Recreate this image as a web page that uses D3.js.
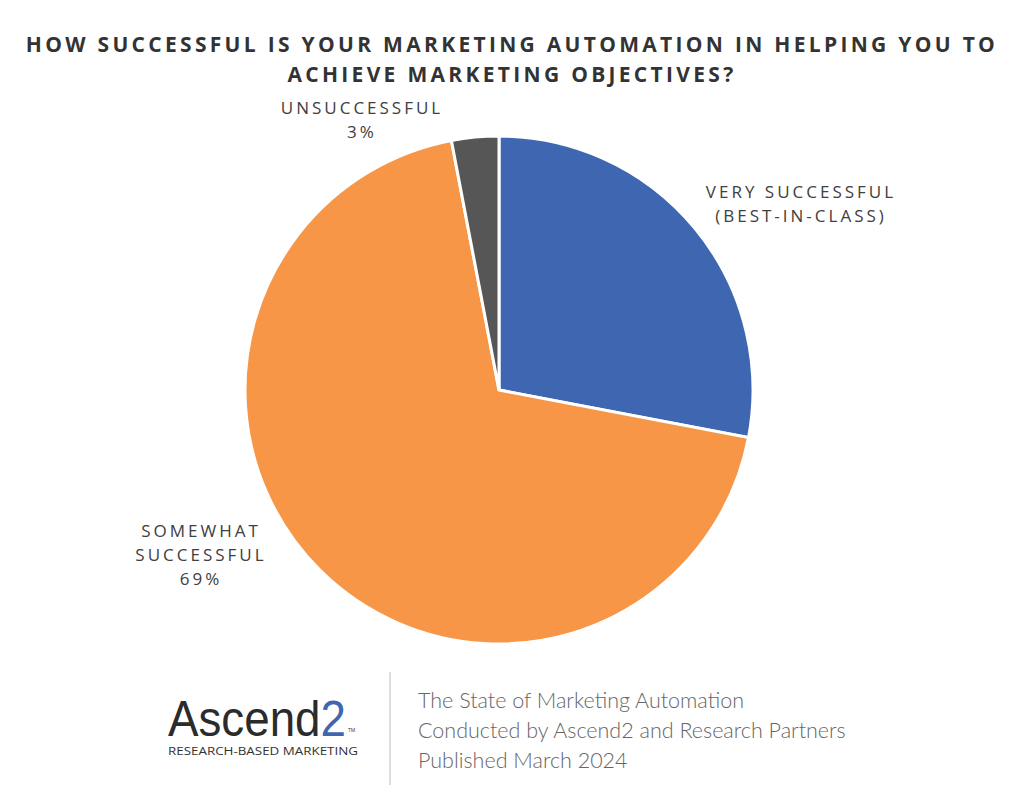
<!DOCTYPE html><html><head><meta charset="utf-8">
<script src="https://cdn.jsdelivr.net/npm/d3@7"></script>
<style>body{margin:0;background:#fff}</style></head><body>
<svg id="c" width="1024" height="808"></svg>
<script>
const categories=["VERY SUCCESSFUL|(BEST-IN-CLASS)","SOMEWHAT|SUCCESSFUL","UNSUCCESSFUL"];
const values=[28,69,3];
const showPct=[false,true,true];
const colors=["#3f67b1","#f79646","#565656"];
const svg=d3.select("#c");
const font="'Open Sans', 'Noto Sans', sans-serif";
[["HOW SUCCESSFUL IS YOUR MARKETING AUTOMATION IN HELPING YOU TO",52],["ACHIEVE MARKETING OBJECTIVES?",82]].forEach(([s,y])=>
svg.append("text").attr("x",512).attr("y",y).attr("text-anchor","middle").attr("font-family",font).attr("font-weight",700).attr("font-size",21).attr("letter-spacing",3.3).attr("fill","#333").text(s));
const cx=499,cy=390,r=254;
const pie=d3.pie().sort(null)(values);
const arc=d3.arc().innerRadius(0).outerRadius(r);
const g=svg.append("g").attr("transform",`translate(${cx},${cy})`);
g.selectAll("path").data(pie).join("path").attr("d",arc).attr("fill",(d,i)=>colors[i]).attr("stroke","#fff").attr("stroke-width",3);
const labelPos=[[801,198],[201,537],[362,114]];
categories.forEach((c,i)=>{
  const lines=c.split("|");if(showPct[i])lines.push(values[i]+"%");
  const t=svg.append("text").attr("text-anchor","middle").attr("font-family",font).attr("font-size",17).attr("letter-spacing",3).attr("fill","#404040");
  lines.forEach((l,j)=>t.append("tspan").attr("x",labelPos[i][0]).attr("y",labelPos[i][1]+j*24).text(l));
});
// footer
svg.append("text").attr("x",168).attr("y",736).attr("textLength",178).attr("lengthAdjust","spacingAndGlyphs").attr("font-family","'Liberation Sans', sans-serif").attr("font-size",50).attr("fill","#2b2b2b").html('Ascend<tspan fill="#3f67b1">2</tspan>');
svg.append("text").attr("x",348).attr("y",732).attr("font-family",font).attr("font-size",5).attr("fill","#333").text("TM");
svg.append("text").attr("x",168).attr("y",755).attr("textLength",190).attr("lengthAdjust","spacingAndGlyphs").attr("font-family",font).attr("font-size",11).attr("fill","#333").text("RESEARCH-BASED MARKETING");
svg.append("line").attr("x1",390).attr("x2",390).attr("y1",672).attr("y2",785).attr("stroke","#bbb").attr("stroke-width",1);
["The State of Marketing Automation","Conducted by Ascend2 and Research Partners","Published March 2024"].forEach((s,i)=>
 svg.append("text").attr("x",418).attr("y",708+i*30).attr("font-family","Lato, sans-serif").attr("font-weight",300).attr("font-size",21.5).attr("fill","#666").text(s));
</script></body></html>
